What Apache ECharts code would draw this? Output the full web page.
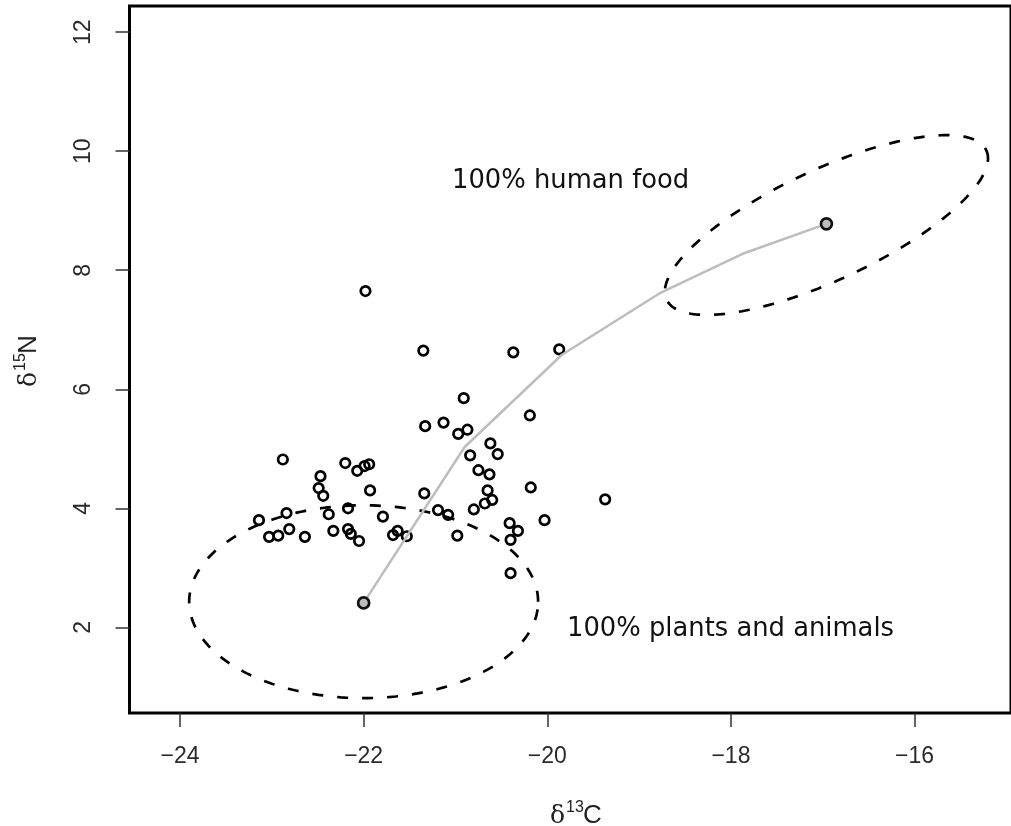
<!DOCTYPE html>
<html>
<head>
<meta charset="utf-8">
<script src="https://cdn.jsdelivr.net/npm/echarts@6/dist/echarts.min.js"></script>
<style>
html,body{margin:0;padding:0;background:#fff;}
#chart{width:1011px;height:826px;}
</style>
</head>
<body>
<div id="chart"></div>
<script>
// consumer samples (δ13C, δ15N)
const consumerX = [-22.88,-22.20,-22.07,-21.99,-21.94,-22.47,-22.49,-22.44,-21.93,-21.34,-22.17,-22.38,-22.84,-23.14,-21.79,-23.03,-22.93,-22.81,-22.64,-22.33,-22.17,-22.14,-22.05,-21.68,-21.63,-21.53,
  -21.35,-20.37,-19.87,-20.91,-21.33,-21.13,-20.97,-20.87,-20.19,-20.62,-20.54,-20.84,-20.75,-20.63,-20.65,-20.60,-20.68,-20.80,-20.18,-19.37,-21.19,-21.08,-20.98,-20.41,-20.32,-20.40,-20.03,-20.40,-21.98];
const consumerY = [4.82,4.76,4.63,4.71,4.74,4.54,4.34,4.21,4.30,4.25,4.00,3.90,3.92,3.80,3.86,3.52,3.54,3.65,3.52,3.62,3.65,3.57,3.45,3.55,3.62,3.53,
  6.65,6.62,6.67,5.85,5.38,5.44,5.25,5.32,5.56,5.09,4.91,4.89,4.64,4.57,4.30,4.14,4.08,3.98,4.35,4.15,3.97,3.89,3.54,3.75,3.62,3.47,3.80,2.91,7.65];
// food-source means
const sourceX = [-22.00, -16.96];
const sourceY = [2.41, 8.78];
// mixing line
const mixX = [-22.00, -20.90, -19.84, -18.78, -17.85, -16.96];
const mixY = [2.41, 5.03, 6.58, 7.61, 8.29, 8.78];
// source ellipses: [centerX, centerY, halfWidthX, halfWidthY, phase(rad)]
const ellipsePlants = [-22.00, 2.43, 1.90, 1.62, 0.0];
const ellipseHuman = [-16.96, 8.76, 1.76, 1.51, 0.836];
// axes
const xTicks = [-24, -22, -20, -18, -16];
const yTicks = [2, 4, 6, 8, 10, 12];
const labelPlants = '100% plants and animals';
const labelHuman = '100% human food';

function ellipsePts(e){
  const pts = [];
  const n = 240;
  for (let i = 0; i <= n; i++) {
    const t = 2 * Math.PI * i / n;
    pts.push([e[0] + e[2] * Math.cos(t), e[1] + e[3] * Math.sin(t + e[4])]);
  }
  return pts;
}
const zip = (a, b) => a.map((v, i) => [v, b[i]]);
const fmt = v => (v < 0 ? '\u2212' : '') + Math.abs(v);

const chart = echarts.init(document.getElementById('chart'), null, {renderer: 'canvas'});
const dash = {color: '#000', width: 2.7, type: [11, 14], cap: 'butt', opacity: 1};

function supTitle(x, y, rot, sup, letter){
  return {
    type: 'group', x: x, y: y, rotation: rot, silent: true,
    children: [
      {type: 'text', x: 0, y: 0, style: {text: 'δ', font: '25px "DejaVu Serif"', fill: '#222', verticalAlign: 'bottom'}},
      {type: 'text', x: 16, y: -13, style: {text: sup, font: '16px "Liberation Sans"', fill: '#222', verticalAlign: 'bottom'}},
      {type: 'text', x: 33, y: 0, style: {text: letter, font: '26px "Liberation Sans"', fill: '#222', verticalAlign: 'bottom'}}
    ]
  };
}

chart.setOption({
  animation: false,
  backgroundColor: '#fff',
  grid: {left: 129.5, top: 6, width: 885, height: 707, show: true, borderColor: '#000', borderWidth: 3, containLabel: false},
  xAxis: {
    type: 'value', min: -24.55, max: -14.95,
    axisLine: {show: false}, splitLine: {show: false},
    axisTick: {show: true, customValues: xTicks, length: 14, lineStyle: {color: '#333', width: 1.5}},
    axisLabel: {show: true, customValues: xTicks, formatter: fmt, margin: 32, fontFamily: 'Liberation Sans', fontSize: 23, color: '#2a2a2a'}
  },
  yAxis: {
    type: 'value', min: 0.56, max: 12.44,
    axisLine: {show: false}, splitLine: {show: false},
    axisTick: {show: true, customValues: yTicks, length: 14, lineStyle: {color: '#333', width: 1.5}},
    axisLabel: {show: true, customValues: yTicks, formatter: fmt, rotate: 90, margin: 34, fontFamily: 'Liberation Sans', fontSize: 23, color: '#2a2a2a'}
  },
  series: [
    {type: 'line', data: ellipsePts(ellipsePlants), showSymbol: false, silent: true, lineStyle: dash, z: 2},
    {type: 'line', data: ellipsePts(ellipseHuman), showSymbol: false, silent: true, lineStyle: dash, z: 2},
    {type: 'scatter', data: zip(consumerX, consumerY), symbol: 'circle', symbolSize: 9.5, silent: true,
      itemStyle: {color: 'rgba(0,0,0,0)', borderColor: '#000', borderWidth: 2.7, opacity: 1}, z: 3},
    {type: 'line', data: zip(mixX, mixY), showSymbol: false, silent: true, lineStyle: {color: '#bdbdbd', width: 2.5, opacity: 1}, z: 4},
    {type: 'scatter', data: zip(sourceX, sourceY), symbol: 'circle', symbolSize: 11, silent: true,
      itemStyle: {color: '#bdbdbd', borderColor: '#111', borderWidth: 2.7, opacity: 1}, z: 5}
  ],
  graphic: [
    {type: 'text', left: 452, top: 168, silent: true, style: {text: labelHuman, font: '25.8px "DejaVu Sans"', fill: '#111'}},
    {type: 'text', left: 567, top: 616, silent: true, style: {text: labelPlants, font: '25.8px "DejaVu Sans"', fill: '#111'}},
    supTitle(550, 829, 0, '13', 'C'),
    supTitle(42, 387, Math.PI / 2, '15', 'N')
  ]
});
</script>
</body>
</html>
